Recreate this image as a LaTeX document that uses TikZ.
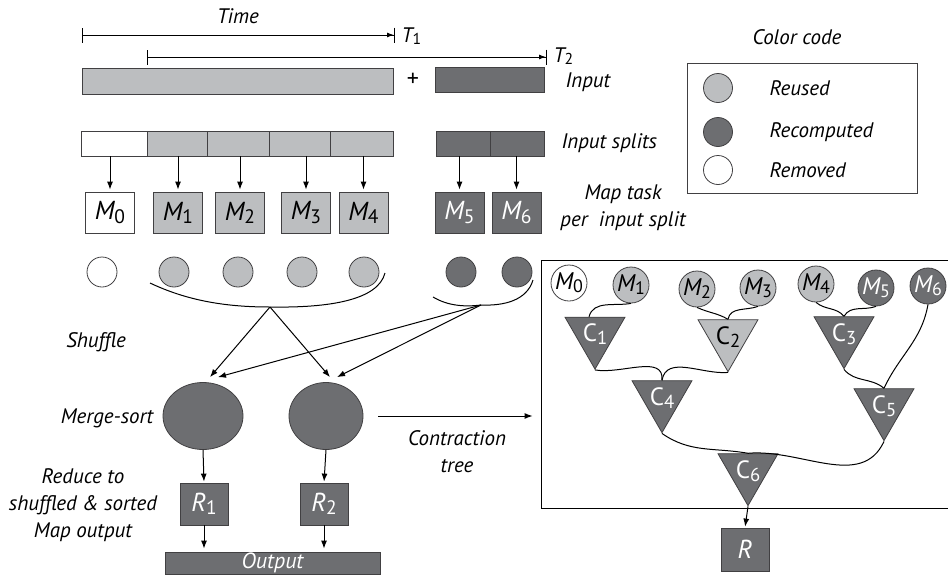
\documentclass[tikz,border=0pt]{standalone}
\usepackage{fontspec}
\setmainfont{PT Sans}
\usetikzlibrary{arrows.meta,shapes.geometric,calc}

\definecolor{reused}{HTML}{BCBEC0}
\definecolor{recomp}{HTML}{6D6E71}
\definecolor{rim}{HTML}{414042}

\newcommand{\low}[1]{\raisebox{-0.12em}{\upshape\scalebox{0.75}{#1}}}
\newcommand{\nm}[2]{{\itshape #1}\low{#2}}

\tikzset{
  arr/.style={-{Latex[length=8pt,width=6pt]},line width=1pt},
  span/.style={{Bar[width=15pt]}-{Latex[length=7pt,width=5pt]Bar[width=15pt]},line width=1pt},
  txt/.style={font=\fontsize{21}{27}\selectfont\itshape,align=center},
  blk/.style={draw=rim,line width=0.8pt,inner sep=0pt},
  split/.style={blk,minimum height=25},
  task/.style={blk,minimum width=49,minimum height=41,font=\fontsize{26}{28}\selectfont},
  dot/.style={circle,draw=rim,line width=0.8pt,minimum size=30,inner sep=0pt},
  leaf/.style={circle,draw=rim,line width=0.8pt,minimum size=36,inner sep=0pt,font=\fontsize{24}{26}\selectfont},
  comb/.style={regular polygon,regular polygon sides=3,shape border rotate=180,draw=rim,line width=0.8pt,minimum size=58,inner sep=0pt,font=\fontsize{25}{26}\selectfont},
  lite/.style={fill=reused},
  deep/.style={fill=recomp,text=white},
  gone/.style={fill=white},
  link/.style={line width=1pt}
}

\begin{document}
\begin{tikzpicture}[x=1pt,y=-1pt]
\useasboundingbox (0,0) rectangle (948,576);

\node [txt] (time) at (238,16) {Time};
\coordinate (a1) at (82,35); \coordinate (b1) at (395,35); \draw [span] (a1) -- (b1);
\coordinate (a2) at (147,57); \coordinate (b2) at (547,57); \draw [span] (a2) -- (b2);
\node [txt,anchor=west] (T1) at (398,36) {\nm{T}{1}};
\node [txt,anchor=west] (T2) at (550,56) {\nm{T}{2}};

\node [blk,lite,minimum width=311,minimum height=26] (in1) at (237.5,81) {};
\node [font=\fontsize{24}{26}\selectfont] (plus) at (413,80) {+};
\node [blk,deep,minimum width=109,minimum height=25] (in2) at (489.5,79.5) {};
\node [txt,anchor=west] (inlab) at (562,82) {Input};

\node [split,gone,minimum width=66] (s0) at (114,143.5) {};
\node [split,lite,minimum width=60] (s1) at (177,143.5) {};
\node [split,lite,minimum width=62] (s2) at (238,143.5) {};
\node [split,lite,minimum width=61] (s3) at (299.5,143.5) {};
\node [split,lite,minimum width=63] (s4) at (361.5,143.5) {};
\node [split,deep,minimum width=54] (s5) at (463,143.5) {};
\node [split,deep,minimum width=54] (s6) at (517,143.5) {};
\node [txt,anchor=west] (splab) at (558,143) {Input splits};

\node [task,gone] (m0) at (110,212.5) {\nm{M}{0}};
\node [task,lite] (m1) at (178,212.5) {\nm{M}{1}};
\node [task,lite] (m2) at (240,212.5) {\nm{M}{2}};
\node [task,lite] (m3) at (306,212.5) {\nm{M}{3}};
\node [task,lite] (m4) at (363.5,212.5) {\nm{M}{4}};
\node [task,deep] (m5) at (459.5,212.5) {\nm{M}{5}};
\node [task,deep] (m6) at (516.5,212.5) {\nm{M}{6}};
\node [txt] (maplab) at (623,208) {Map task\\per~ input split};

\draw [arr,shorten >=2pt] (m0.north |- s0.south) -- (m0.north); \draw [arr,shorten >=2pt] (m1.north |- s1.south) -- (m1.north);
\draw [arr,shorten >=2pt] (m2.north |- s2.south) -- (m2.north); \draw [arr,shorten >=2pt] (m3.north |- s3.south) -- (m3.north);
\draw [arr,shorten >=2pt] (m4.north |- s4.south) -- (m4.north); \draw [arr,shorten >=2pt] (m5.north |- s5.south) -- (m5.north);
\draw [arr,shorten >=2pt] (m6.north |- s6.south) -- (m6.north);

\node [dot,gone] (o0) at (102,272) {}; \node [dot,lite] (o1) at (174,272) {}; \node [dot,lite] (o2) at (238,272) {};
\node [dot,lite] (o3) at (302,272) {}; \node [dot,lite] (o4) at (364,272) {};
\node [dot,deep] (o5) at (461,272) {}; \node [dot,deep] (o6) at (517,272) {};

\coordinate (lb) at (270,307); \coordinate (db) at (481,305);
\draw [link] (150,283) .. controls (190,302) and (230,307) .. (lb) .. controls (330,308) and (378,300) .. (385,273);
\draw [link] (433,297) .. controls (448,306) and (465,307) .. (db) .. controls (505,306) and (527,300) .. (533,280);

\node [txt] (shuf) at (96,342) {Shuffle};
\node [txt] (mslab) at (107,418) {Merge-sort};
\node [txt] (redlab) at (83,505) {Reduce to\\shuffled \& sorted\\Map output};

\node [ellipse,draw=rim,line width=0.8pt,fill=recomp,minimum width=80,minimum height=67] (ms1) at (203,416) {};
\node [ellipse,draw=rim,line width=0.8pt,fill=recomp,minimum width=74,minimum height=67] (ms2) at (326,416) {};
\draw [arr] (lb) -- ($(ms1.north)+(7,-5)$); \draw [arr] (lb) -- ($(ms2.north)+(4,-5)$);
\draw [arr] (db) -- ($(ms1.north)+(15,-5)$); \draw [arr] (db) -- ($(ms2.north)+(11,-5)$);

\node [task,deep,minimum width=48,minimum height=42] (r1) at (204,504) {\nm{R}{1}};
\node [task,deep,minimum width=48,minimum height=42] (r2) at (324,504) {\nm{R}{2}};
\draw [arr,shorten >=1pt] (ms1.south) -- (r1.north); \draw [arr,shorten >=1pt] (ms2.south) -- (r2.north);
\node [blk,deep,minimum width=215,minimum height=22,font=\fontsize{22}{22}\selectfont\itshape] (out) at (272.5,563) {Output};
\draw [arr,shorten >=3pt] (r1.south) -- (r1.south |- out.north); \draw [arr,shorten >=3pt] (r2.south) -- (r2.south |- out.north);

\node [txt] (ctlab) at (457,452) {Contraction\\tree};

\node [txt] (cclab) at (797,37) {Color code};
\node [draw=rim,line width=0.8pt,minimum width=230,minimum height=130] (legend) at (802,128) {};
\node [dot,lite,minimum size=29] (k1) at (718,88) {}; \node [txt,anchor=west] at (766,88) {Reused};
\node [dot,deep,minimum size=29] (k2) at (718,132) {}; \node [txt,anchor=west] at (766,132) {Recomputed};
\node [dot,gone,minimum size=29] (k3) at (718,170) {}; \node [txt,anchor=west] at (766,170) {Removed};

\node [draw=black,line width=0.9pt,minimum width=409,minimum height=248] (tree) at (745.5,384) {};
\draw [arr,shorten <=15pt,shorten >=8pt] (ms2.east) -- (ms2.east -| tree.west);

\node [leaf,gone] (t0) at (569,283) {\nm{M}{0}}; \node [leaf,lite] (t1) at (631,285) {\nm{M}{1}};
\node [leaf,lite] (t2) at (697,289) {\nm{M}{2}}; \node [leaf,lite] (t3) at (758,288) {\nm{M}{3}};
\node [leaf,lite] (t4) at (816,284) {\nm{M}{4}}; \node [leaf,deep] (t5) at (876,288) {\nm{M}{5}};
\node [leaf,deep] (t6) at (928,286) {\nm{M}{6}};

\node [comb,deep] (c1) at (595,334.5) {C\low{1}};
\node [comb,lite] (c2) at (728,337) {C\low{2}};
\node [comb,deep] (c3) at (844,334) {C\low{3}};
\node [comb,deep] (c4) at (662,398) {C\low{4}};
\node [comb,deep] (c5) at (884,406) {C\low{5}};
\node [comb,deep] (c6) at (748,471) {C\low{6}};

\draw [link] (t1.south) to [out=190,in=75] ([xshift=-6pt]c1.north);
\draw [link] (t2.south) to [out=-25,in=150] (c2.north);
\draw [link] (t3.south) to [out=200,in=80] (c2.north);
\draw [link] (t4.south) to [out=-40,in=130] (c3.north);
\draw [link] (t5.south) to [out=200,in=60] (c3.north);
\draw [link] (t6.south) to [out=-100,in=65] (c5.north);
\draw [link] (c1.south) to [out=-10,in=85] (c4.north);
\draw [link] (c2.south) to [out=185,in=80] (c4.north);
\draw [link] (c3.south) to [out=-50,in=140] (c5.north);
\draw [link] (c4.south) to [out=-35,in=170] (c6.north);
\draw [link] (c5.south) to [out=-115,in=5] (c6.north);

\node [task,deep,minimum width=48,minimum height=43] (r) at (745,549.5) {\textit{R}};
\draw [arr,shorten >=1pt] (c6.south) -- (r.north);

\end{tikzpicture}
\end{document}
